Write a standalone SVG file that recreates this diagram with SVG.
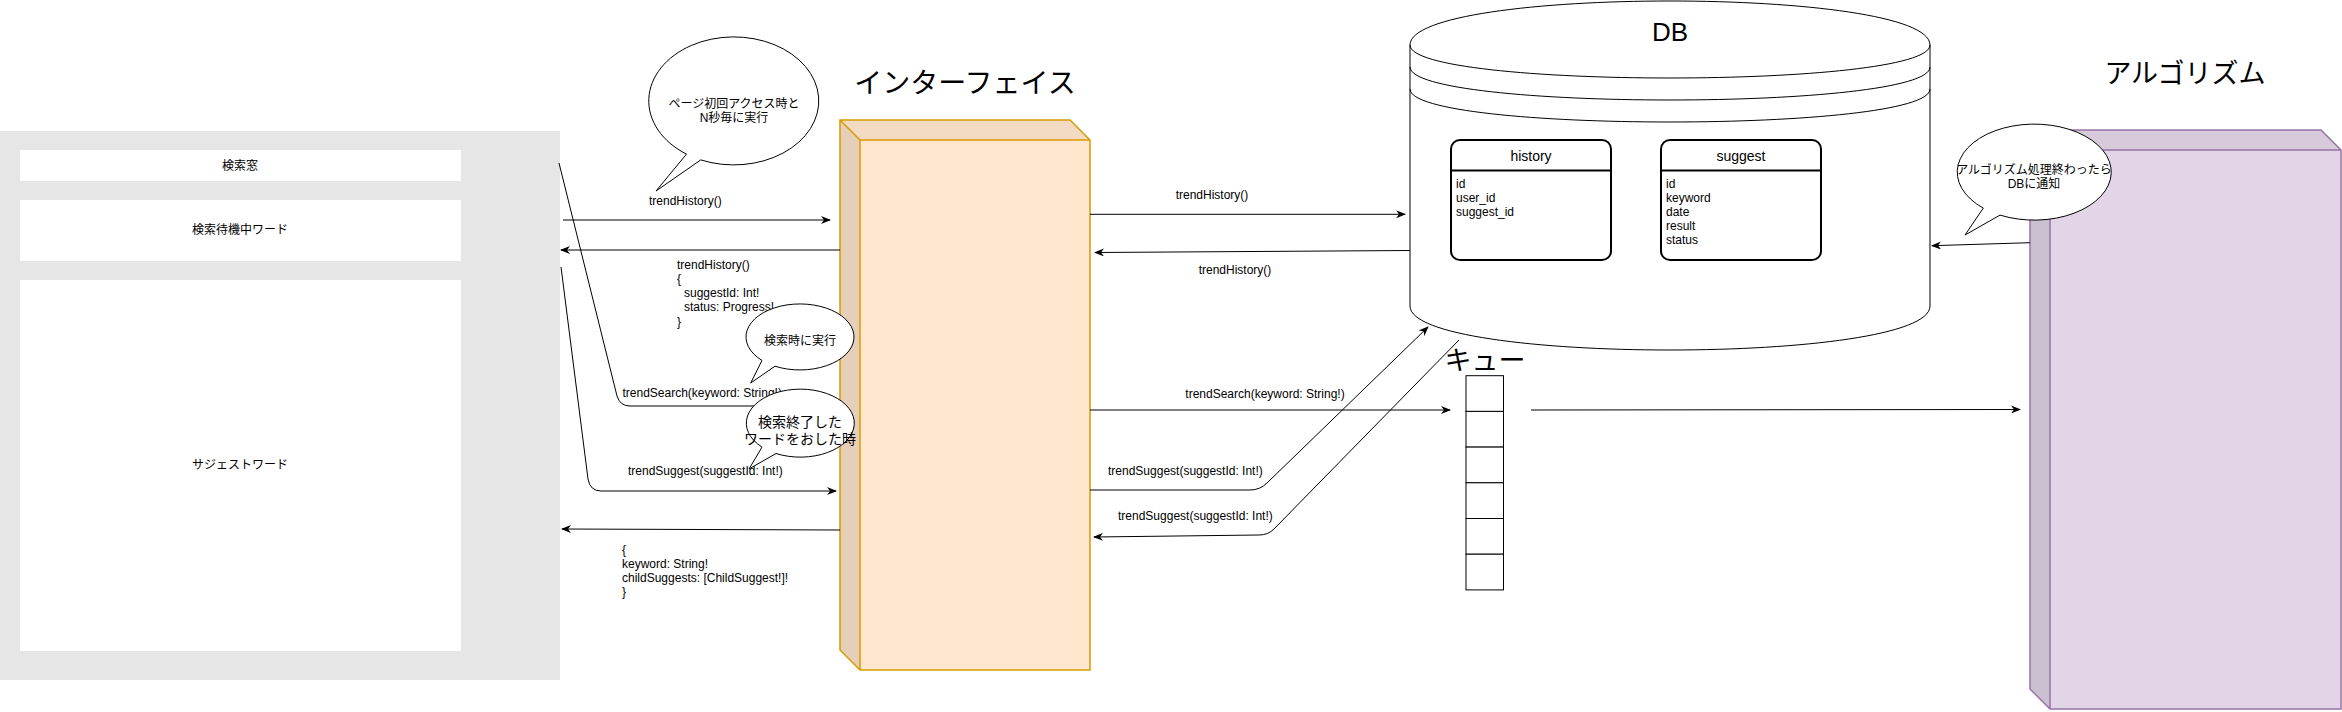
<svg xmlns="http://www.w3.org/2000/svg" width="2342" height="712" viewBox="0 0 2342 712">
<defs>
<style>
text{font-family:"Liberation Sans","Noto Sans CJK JP",sans-serif;fill:#000}
.t12{font-size:12px}
.t14{font-size:14px}
.mid{text-anchor:middle}
.title{font-size:28px;text-anchor:middle}
.conn{fill:none;stroke:#000;stroke-width:1}
.arr{marker-end:url(#ah)}
.bubble{fill:#fff;stroke:#000;stroke-width:1}
.cell{fill:#fff;stroke:#000;stroke-width:1}
.tbl{fill:#fff;stroke:#000;stroke-width:2}
</style>
<marker id="ah" viewBox="0 0 10 8" refX="9" refY="4" markerWidth="10" markerHeight="8" markerUnits="userSpaceOnUse" orient="auto">
<path d="M0,0 L10,4 L0,8 L3,4 Z" fill="#000"/>
</marker>
</defs>
<rect width="2342" height="712" fill="#fff"/>

<g id="client">
<rect x="0" y="131" width="560" height="549" fill="#e6e6e6"/>
<rect x="20" y="150" width="441" height="31" fill="#fff"/>
<text class="t12 mid" x="240" y="170">検索窓</text>
<rect x="20" y="200" width="441" height="61" fill="#fff"/>
<text class="t12 mid" x="240" y="234">検索待機中ワード</text>
<rect x="20" y="280" width="441" height="371" fill="#fff"/>
<text class="t12 mid" x="240" y="469">サジェストワード</text>
</g>

<g id="interface">
<text class="title" x="965" y="93">インターフェイス</text>
<path d="M840,120 L1070,120 L1090,140 L1090,670 L860,670 L840,650 Z" fill="#ffe6cc"/>
<path d="M840,120 L1070,120 L1090,140 L860,140 Z" fill="#f2dbc2"/>
<path d="M840,120 L860,140 L860,670 L840,650 Z" fill="#e6cfb8"/>
<path d="M840,120 L1070,120 L1090,140 L1090,670 L860,670 L840,650 Z M840,120 L860,140 L860,670 M860,140 L1090,140" fill="none" stroke="#d79b00" stroke-width="1.5"/>
</g>

<g id="db">
<path d="M1410,45 C1410,-13.67 1930,-13.67 1930,45 L1930,306 C1930,364.67 1410,364.67 1410,306 Z" fill="#fff" stroke="#000" stroke-width="1"/>
<path d="M1410,45 C1410,89 1930,89 1930,45 M1410,67 C1410,111 1930,111 1930,67 M1410,89 C1410,133 1930,133 1930,89" fill="none" stroke="#000" stroke-width="1"/>
<text x="1670" y="41" font-size="26" text-anchor="middle">DB</text>
</g>

<g id="history">
<rect class="tbl" x="1451" y="140" width="160" height="120" rx="9"/>
<line x1="1451" y1="170.5" x2="1611" y2="170.5" stroke="#000" stroke-width="2"/>
<text class="t14 mid" x="1531" y="161">history</text>
<text class="t12" x="1456" y="187.5">id</text>
<text class="t12" x="1456" y="201.8">user_id</text>
<text class="t12" x="1456" y="216">suggest_id</text>
</g>

<g id="suggest">
<rect class="tbl" x="1661" y="140" width="160" height="120" rx="9"/>
<line x1="1661" y1="170.5" x2="1821" y2="170.5" stroke="#000" stroke-width="2"/>
<text class="t14 mid" x="1741" y="161">suggest</text>
<text class="t12" x="1666" y="187.5">id</text>
<text class="t12" x="1666" y="201.8">keyword</text>
<text class="t12" x="1666" y="216">date</text>
<text class="t12" x="1666" y="230.2">result</text>
<text class="t12" x="1666" y="244.4">status</text>
</g>

<g id="queue">
<text x="1485" y="370" font-size="27" text-anchor="middle">キュー</text>
<rect class="cell" x="1466" y="375.7" width="37.5" height="35.7"/>
<rect class="cell" x="1466" y="411.4" width="37.5" height="35.7"/>
<rect class="cell" x="1466" y="447.1" width="37.5" height="35.7"/>
<rect class="cell" x="1466" y="482.8" width="37.5" height="35.7"/>
<rect class="cell" x="1466" y="518.5" width="37.5" height="35.7"/>
<rect class="cell" x="1466" y="554.2" width="37.5" height="35.7"/>
</g>

<g id="algorithm">
<text x="2185" y="83" font-size="27" text-anchor="middle">アルゴリズム</text>
<path d="M2030,130 L2321,130 L2341,150 L2341,709 L2050,709 L2030,689 Z" fill="#e1d5e7"/>
<path d="M2030,130 L2321,130 L2341,150 L2050,150 Z" fill="#d6cadb"/>
<path d="M2030,130 L2050,150 L2050,709 L2030,689 Z" fill="#cbc0d0"/>
<path d="M2030,130 L2321,130 L2341,150 L2341,709 L2050,709 L2030,689 Z M2030,130 L2050,150 L2050,709 M2050,150 L2341,150" fill="none" stroke="#9673a6" stroke-width="1.5"/>
</g>

<g id="connectors">
<path class="conn arr" d="M563,220 L830,220"/>
<path class="conn arr" d="M840,250 L561,250"/>
<path class="conn arr" d="M559,163 L617,396 Q620,406 630,406 L838,406"/>
<path class="conn arr" d="M561,267 L588,479 Q590,491 601,491 L836,491"/>
<path class="conn arr" d="M840,530 L562,529"/>
<path class="conn arr" d="M1090,214.3 L1405,214.3"/>
<path class="conn arr" d="M1410,250.5 L1095,252.5"/>
<path class="conn arr" d="M1090,410 L1450,410"/>
<path class="conn arr" d="M1090,490 L1250,490 Q1260,490 1267,483 L1428,327"/>
<path class="conn arr" d="M1459,340 L1274,529 Q1268,535 1259,535 L1094,537"/>
<path class="conn arr" d="M1531,410 L2020,409.5"/>
<path class="conn arr" d="M2030,242.7 L1932,245.7"/>
</g>

<g id="labels">
<text class="t12" x="649" y="205">trendHistory()</text>
<text class="t12" x="677" y="269">trendHistory()</text>
<text class="t12" x="677" y="283.3">{</text>
<text class="t12" x="684" y="297.3">suggestId: Int!</text>
<text class="t12" x="684" y="311.3">status: Progress!</text>
<text class="t12" x="677" y="325.7">}</text>
<text class="t12" x="622.5" y="397">trendSearch(keyword: String!)</text>
<text class="t12" x="628" y="475">trendSuggest(suggestId: Int!)</text>
<text class="t12" x="622" y="554">{</text>
<text class="t12" x="622" y="568">keyword: String!</text>
<text class="t12" x="622" y="581.7">childSuggests: [ChildSuggest!]!</text>
<text class="t12" x="622" y="595.7">}</text>
<text class="t12 mid" x="1212" y="199">trendHistory()</text>
<text class="t12 mid" x="1235" y="274">trendHistory()</text>
<text class="t12 mid" x="1265" y="398">trendSearch(keyword: String!)</text>
<text class="t12" x="1108" y="475">trendSuggest(suggestId: Int!)</text>
<text class="t12" x="1118" y="520">trendSuggest(suggestId: Int!)</text>
</g>

<g id="callout-init">
<path class="bubble" d="M700.8,159.9 A85,64 0 1 0 686.5,154.1 L656,191 Z"/>
<text class="t12 mid" x="734" y="107.5">ページ初回アクセス時と</text>
<text class="t12 mid" x="734" y="122">N秒毎に実行</text>
</g>

<g id="callout-search">
<path class="bubble" d="M775,366.2 A54,33 0 1 0 762,360.4 L750.7,383 Z"/>
<text class="t12 mid" x="800" y="345">検索時に実行</text>
</g>

<g id="callout-suggest">
<path class="bubble" d="M776,453.5 A54,34 0 1 0 762,447.1 L749,469 Z"/>
<text class="t14 mid" x="800" y="426.5">検索終了した</text>
<text class="t14 mid" x="800" y="443.5">ワードをおした時</text>
</g>

<g id="callout-algo">
<path class="bubble" d="M2000,215.1 A77,48 0 1 0 1983.3,208.1 L1965,235 Z"/>
<text class="t12 mid" x="2034" y="174.3">アルゴリズム処理終わったら</text>
<text class="t12 mid" x="2034" y="187.6">DBに通知</text>
</g>
</svg>
